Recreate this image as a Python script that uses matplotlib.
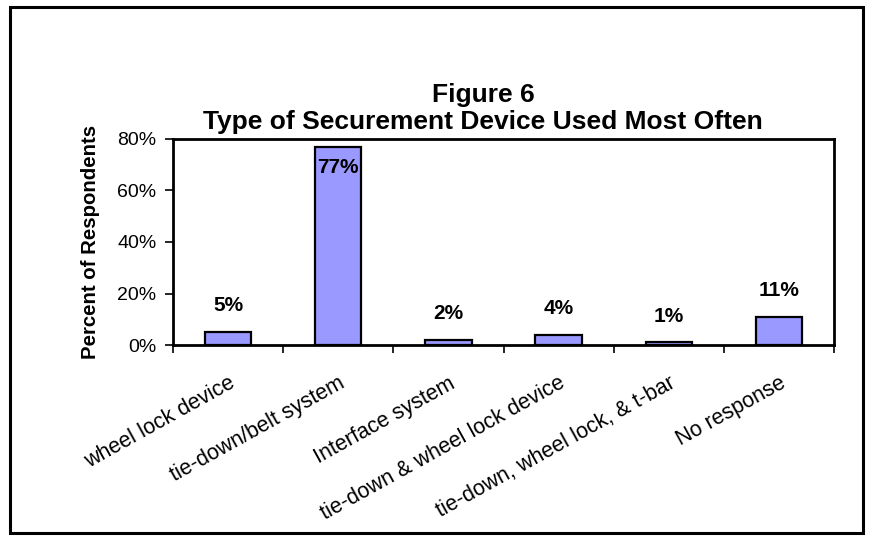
import matplotlib
matplotlib.use("Agg")
import matplotlib.pyplot as plt
from matplotlib.patches import Rectangle
from matplotlib.ticker import FixedLocator, NullFormatter

plt.rcParams['font.family'] = ['Liberation Sans', 'DejaVu Sans']

categories = ["wheel lock device", "tie-down/belt system", "Interface system",
              "tie-down & wheel lock device", "tie-down, wheel lock, & t-bar", "No response"]
values = [5, 77, 2, 4, 1, 11]
labels = ["5%", "77%", "2%", "4%", "1%", "11%"]
yticks = [0, 20, 40, 60, 80]
ytick_labels = ["0%", "20%", "40%", "60%", "80%"]

fig = plt.figure(figsize=(8.72, 5.36), dpi=100)
fig.patch.set_facecolor('white')
fig.add_artist(Rectangle((9.5/872, 1 - 533/536), 853/872, 526/536, transform=fig.transFigure,
                         fill=False, edgecolor='black', linewidth=2.2))

ax = fig.add_axes([173/872, 1 - 345/536, (834 - 173)/872, (345 - 139)/536])
x = list(range(len(categories)))
ax.bar(x, values, width=0.42, color='#9999FF', edgecolor='black', linewidth=1.6, zorder=3)
ax.set_xlim(-0.5, len(categories) - 0.5)
ax.set_ylim(0, 80)
ax.set_yticks(yticks)
ax.set_yticklabels(ytick_labels, fontsize=14)
ax.xaxis.set_major_locator(FixedLocator([i - 0.5 for i in range(len(categories) + 1)]))
ax.xaxis.set_major_formatter(NullFormatter())
ax.xaxis.set_minor_locator(FixedLocator(x))
ax.set_xticklabels(categories, minor=True, rotation=29, ha='right', rotation_mode='anchor', fontsize=15.5)
ax.tick_params(axis='x', which='minor', length=0, pad=20)
ax.tick_params(axis='x', which='major', length=6, width=1.2, direction='out')
ax.tick_params(axis='y', length=6, width=1.2, direction='out', pad=6)
for s in ax.spines.values():
    s.set_linewidth(2)
ax.set_ylabel("Percent of Respondents", fontsize=14.7, fontweight='bold', labelpad=12)

for i, (v, lab) in enumerate(zip(values, labels)):
    if v > 70:
        ax.annotate(lab, (i, v), xytext=(0, -8), textcoords='offset points',
                    ha='center', va='top', fontsize=15, fontweight='bold', zorder=4)
    else:
        ax.annotate(lab, (i, v), xytext=(0, 12), textcoords='offset points',
                    ha='center', va='bottom', fontsize=15, fontweight='bold', zorder=4)

fig.text(483/872, 1 - 95/536, "Figure 6", ha='center', va='center', fontsize=19, fontweight='bold')
fig.text(483/872, 1 - 122/536, "Type of Securement Device Used Most Often", ha='center', va='center',
         fontsize=19, fontweight='bold')

fig.savefig("out.png", dpi=100)
